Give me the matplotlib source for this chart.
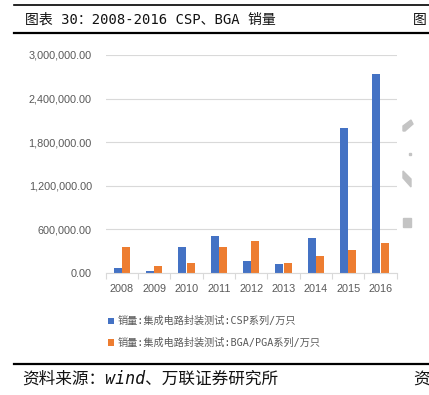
import matplotlib
matplotlib.use("Agg")
import matplotlib.pyplot as plt
from matplotlib.patches import Polygon, Rectangle
from matplotlib.lines import Line2D
import numpy as np

years = ["2008", "2009", "2010", "2011", "2012", "2013", "2014", "2015", "2016"]
csp = [65000, 23000, 358000, 513000, 161000, 128000, 482000, 1995000, 2740000]
bga = [358000, 96000, 142000, 358000, 436000, 142000, 234000, 312000, 409000]
yticks = [0, 600000, 1200000, 1800000, 2400000, 3000000]
series_names = ["销量:集成电路封装测试:CSP系列/万只", "销量:集成电路封装测试:BGA/PGA系列/万只"]
title = "图表 30：2008-2016 CSP、BGA 销量"
source = "资料来源：wind、万联证券研究所"

BLUE = "#4472C4"
ORANGE = "#ED7D31"
GRID = "#D9D9D9"
TICKC = "#595959"
MONO_CJK = ["DejaVu Sans Mono", "Noto Sans CJK SC"]
NUM = ["Liberation Sans", "DejaVu Sans"]

W, H = 429, 395
fig = plt.figure(figsize=(W / 100, H / 100), dpi=100)

def fx(px):
    return px / W

def fy(py):
    return 1 - py / H

# header/footer lines
for y, lw in [(5, 1.2), (33, 1.6), (363.5, 1.6)]:
    fig.add_artist(Line2D([fx(14), 1.0], [fy(y), fy(y)], color="black", lw=lw))

fig.text(fx(25), fy(20), title, family=MONO_CJK, fontsize=10.0, va="center", ha="left", color="#111111")
fig.text(fx(413), fy(20), "图", family=MONO_CJK, fontsize=10.0, va="center", ha="left", color="#111111")
fig.text(fx(22), fy(379), source, family=MONO_CJK, fontsize=12.0, va="center", ha="left", color="#111111",
         style="italic")
fig.text(fx(413), fy(379), "资", family=MONO_CJK, fontsize=12.0, va="center", ha="left", color="#111111")

# axes
left, right, top, bottom = 105.7, 396.7, 55, 273
ax = fig.add_axes([fx(left), fy(bottom), (right - left) / W, (bottom - top) / H])
x = np.arange(len(years))
bw = 0.245
b1 = ax.bar(x - 0.128, csp, width=bw, color=BLUE, label=series_names[0])
b2 = ax.bar(x + 0.128, bga, width=bw, color=ORANGE, label=series_names[1])
ax.set_xlim(-0.5, len(years) - 0.5)
ax.set_ylim(0, 3000000)
ax.set_yticks(yticks)
ax.set_yticklabels([f"{v:,.2f}" for v in yticks], family=NUM, fontsize=7.8, color=TICKC)
ax.set_xticks(x)
ax.set_xticklabels(years, family=NUM, fontsize=7.8, color=TICKC)
ax.set_xticks(np.arange(-0.5, len(years), 1.0), minor=True)
ax.tick_params(axis="x", which="major", length=0, pad=8)
ax.tick_params(axis="x", which="minor", length=4, color=GRID, width=0.8)
ax.tick_params(axis="y", length=0, pad=10)
ax.grid(axis="y", color=GRID, lw=0.8)
ax.set_axisbelow(True)
for s in ["top", "right", "left"]:
    ax.spines[s].set_visible(False)
ax.spines["bottom"].set_color(GRID)
ax.spines["bottom"].set_linewidth(0.8)

# legend
fig.legend(handles=[b1, b2], loc="upper left", bbox_to_anchor=(fx(108), fy(316)),
           frameon=False, prop={"family": MONO_CJK, "size": 7.3}, handlelength=0.55,
           handleheight=0.55, handletextpad=0.4, labelspacing=1.15, labelcolor=TICKC,
           borderaxespad=0, borderpad=0)

# partial watermark fragments on the right
wm = "#C4C4C4"
fig.add_artist(Polygon([[fx(403), fy(131)], [fx(403), fy(126)], [fx(411), fy(120)], [fx(413), fy(124)], [fx(405), fy(131)]],
                       closed=True, color=wm, transform=fig.transFigure))
fig.add_artist(Rectangle((fx(409), fy(154.5)), fx(2), 2 / H, color=wm, transform=fig.transFigure))
fig.add_artist(Polygon([[fx(403), fy(171)], [fx(403), fy(178)], [fx(411), fy(187)], [fx(411), fy(179)]],
                       closed=True, color=wm, transform=fig.transFigure))
fig.add_artist(Rectangle((fx(403), fy(227)), fx(8), 9 / H, color=wm, transform=fig.transFigure))

fig.savefig("out.png", dpi=100)
